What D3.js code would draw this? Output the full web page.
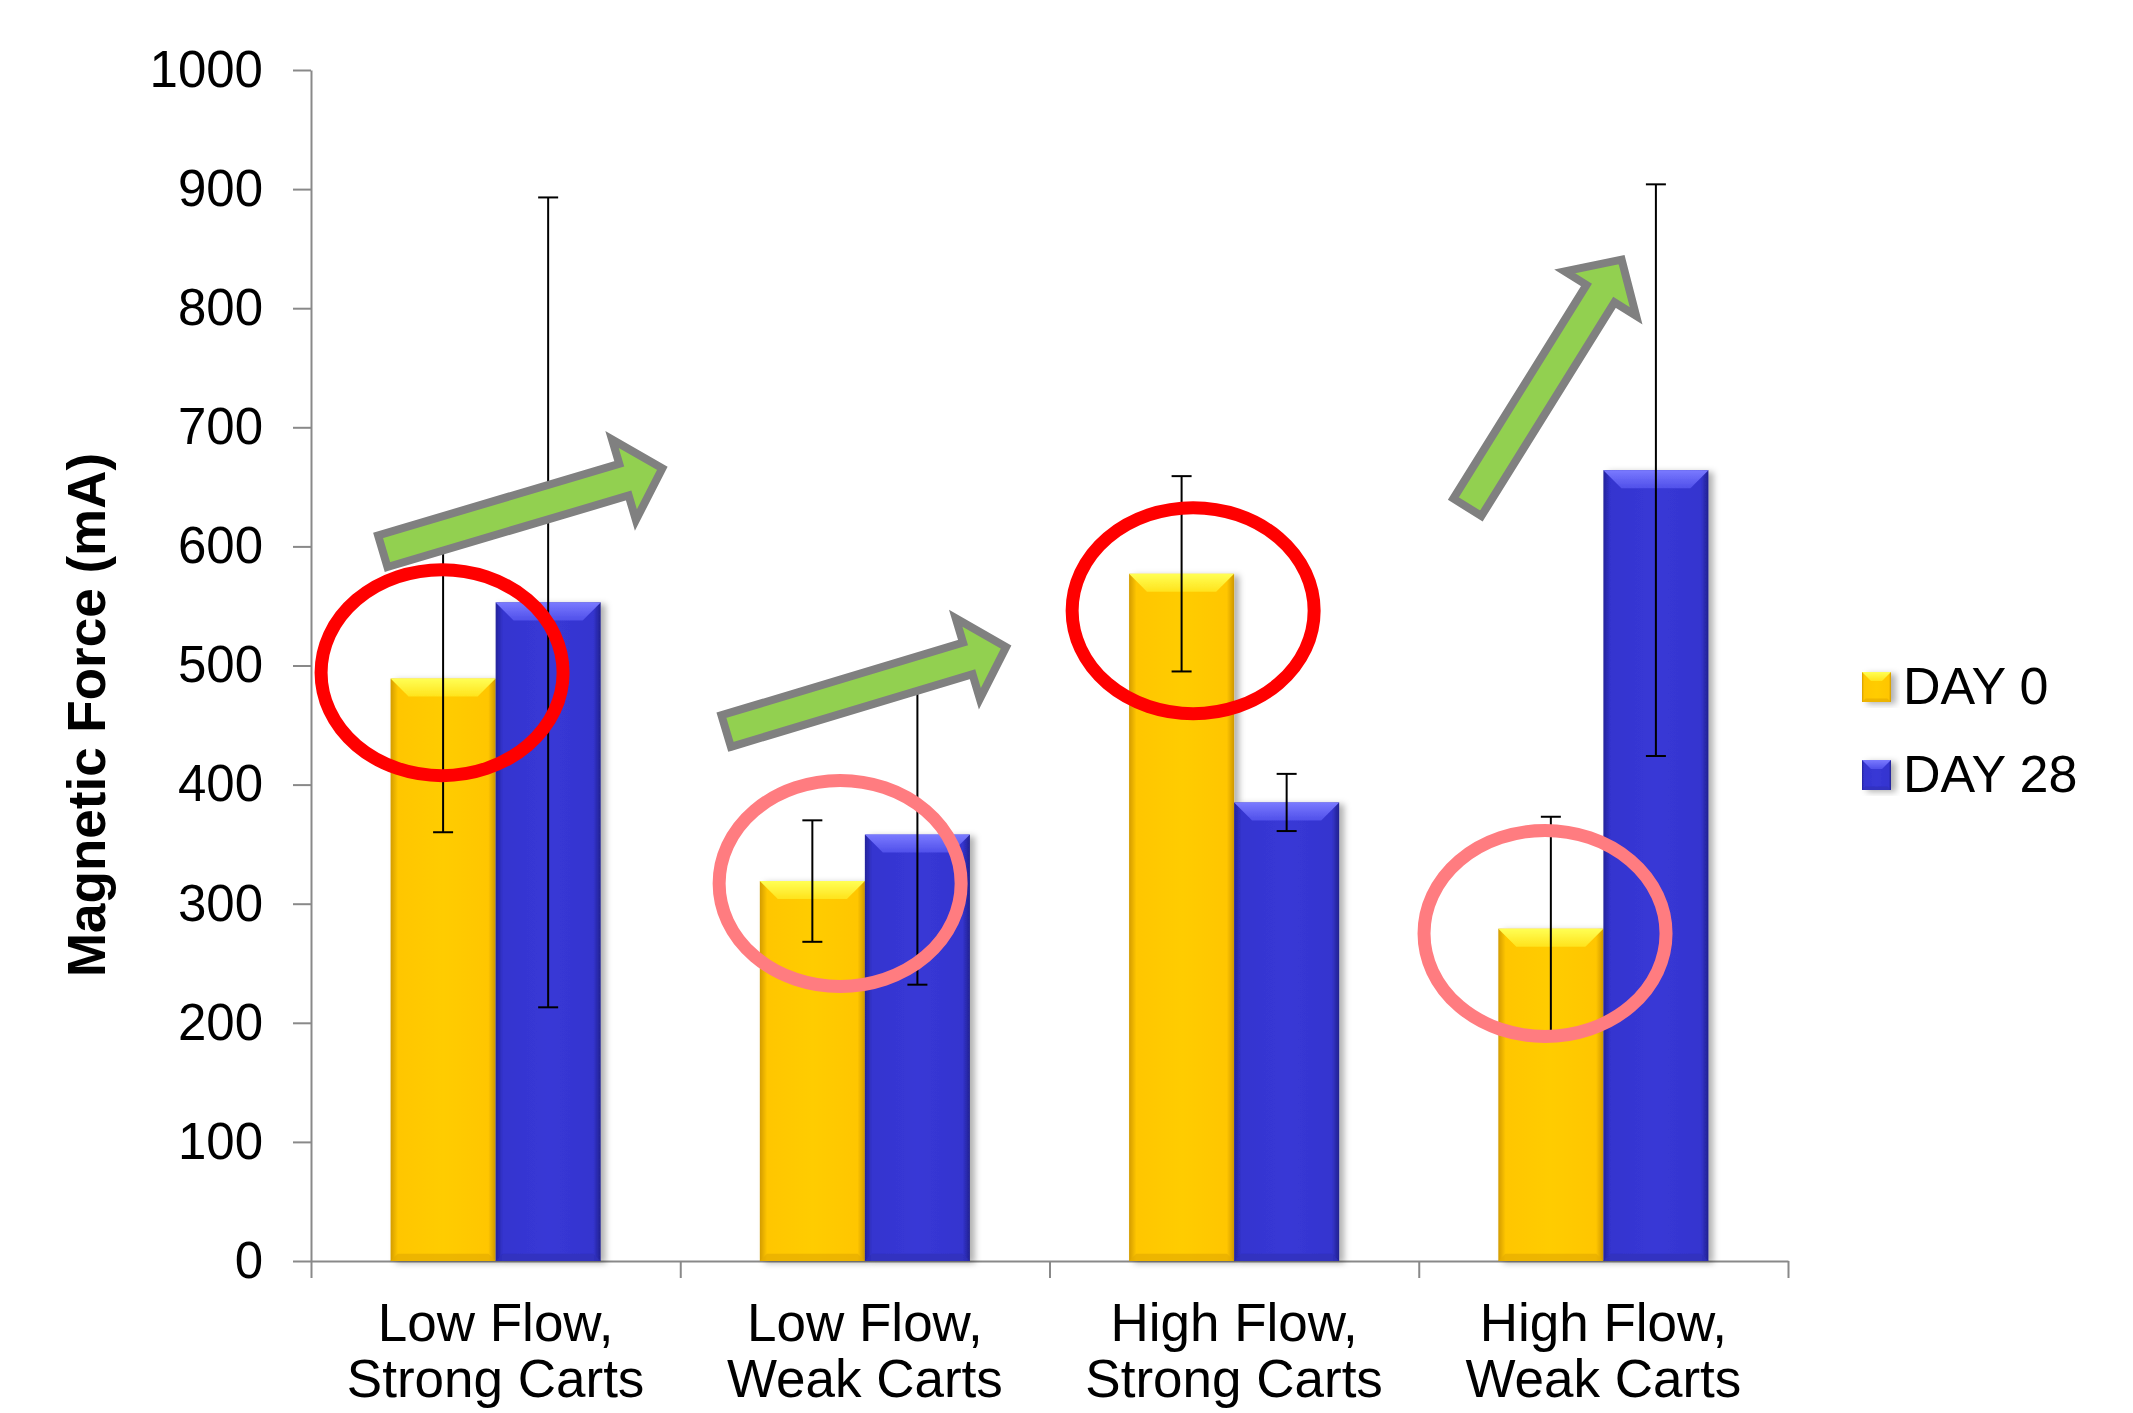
<!DOCTYPE html>
<html>
<head>
<meta charset="utf-8">
<script src="https://cdn.jsdelivr.net/npm/d3@7"></script>
<style>
  body { margin: 0; background: #fff; }
  svg { display: block; }
</style>
</head>
<body>
<svg id="chart"></svg>
<script>
const categories = ["Low Flow,\nStrong Carts", "Low Flow,\nWeak Carts", "High Flow,\nStrong Carts", "High Flow,\nWeak Carts"];
const seriesNames = ["DAY 0", "DAY 28"];
const day0 = [489, 319, 577, 279];
const day0Err = [129, 51, 82, 94];
const day28 = [553, 358, 385, 664];
const day28Err = [340, 126, 24, 240];
const yTicks = [0, 100, 200, 300, 400, 500, 600, 700, 800, 900, 1000];

// annotations, placed in category units (0..4) and mA
const circleCenters = [[0.355, 494], [1.433, 317], [2.389, 546], [3.342, 275]];
const circleKinds = ["strong", "soft", "strong", "soft"];
const arrowTails = [[0.184, 595], [1.114, 444], [3.126, 630]];
const arrowTips = [[0.967, 667], [1.898, 517], [3.558, 845]];

const W = 2133, H = 1413;
const FONT = "'Liberation Sans', Arial, sans-serif";

const svg = d3.select("#chart").attr("width", W).attr("height", H)
  .attr("font-family", FONT);

const y = d3.scaleLinear().domain([0, 1000]).range([1261, 70]);
const x0 = d3.scaleBand().domain(d3.range(categories.length)).range([311, 1788])
  .paddingInner(0.431).paddingOuter(0.2155);
const x1 = d3.scaleBand().domain(seriesNames).range([0, x0.bandwidth()]);
const xc = d3.scaleLinear().domain([0, 4]).range([311, 1788]);

const values = { "DAY 0": day0, "DAY 28": day28 };
const errors = { "DAY 0": day0Err, "DAY 28": day28Err };

// colours for the bevelled bars
const palette = {
  "DAY 0": { side: ["#d39c00", "#ffc600", "#ffcc00", "#ffc600", "#cf9800"], top: ["#ffff55", "#ffe31c"], bottom: "#e6ad00" },
  "DAY 28": { side: ["#23239c", "#3434cf", "#3838d6", "#3434cf", "#21218f"], top: ["#7a7aff", "#5050ea"], bottom: "#2f2fb8" },
};

const defs = svg.append("defs");
seriesNames.forEach((s, i) => {
  const p = palette[s];
  const g = defs.append("linearGradient").attr("id", `side${i}`).attr("x1", 0).attr("x2", 1).attr("y1", 0).attr("y2", 0);
  [0, 0.07, 0.5, 0.93, 1].forEach((o, k) => g.append("stop").attr("offset", o).attr("stop-color", p.side[k]));
  const t = defs.append("linearGradient").attr("id", `top${i}`).attr("x1", 0).attr("x2", 0).attr("y1", 0).attr("y2", 1);
  t.append("stop").attr("offset", 0).attr("stop-color", p.top[0]);
  t.append("stop").attr("offset", 1).attr("stop-color", p.top[1]);
});
const shadow = defs.append("filter").attr("id", "shadow").attr("x", -0.2).attr("y", -0.2).attr("width", 1.5).attr("height", 1.4);
shadow.append("feDropShadow").attr("dx", 5).attr("dy", 2).attr("stdDeviation", 3)
  .attr("flood-color", "#000").attr("flood-opacity", 0.3);

function bevelBar(g, x, yTop, w, h, s, b) {
  const i = seriesNames.indexOf(s);
  const grp = g.append("g").attr("filter", "url(#shadow)");
  grp.append("rect").attr("x", x).attr("y", yTop).attr("width", w).attr("height", h)
    .attr("fill", `url(#side${i})`);
  grp.append("path")
    .attr("d", `M${x},${yTop}H${x + w}L${x + w - b},${yTop + b}H${x + b}Z`)
    .attr("fill", `url(#top${i})`);
  const bb = Math.min(b * 0.4, h / 4);
  grp.append("path")
    .attr("d", `M${x},${yTop + h}H${x + w}L${x + w - bb},${yTop + h - bb}H${x + bb}Z`)
    .attr("fill", palette[s].bottom).attr("opacity", 0.7);
}

// axes
const axisColor = "#898989";
const yAxis = svg.append("g").attr("transform", "translate(311,0)")
  .call(d3.axisLeft(y).tickValues(yTicks).tickFormat(d3.format("d"))
    .tickSize(18).tickSizeOuter(0).tickPadding(30));
yAxis.attr("font-family", FONT).attr("font-size", 51);
yAxis.selectAll("text").attr("fill", "#000");
yAxis.selectAll("line, path").attr("stroke", axisColor).attr("stroke-width", 2);

const xAxis = svg.append("g").attr("transform", `translate(0,${y(0)})`)
  .call(d3.axisBottom(xc).tickValues([0, 1, 2, 3, 4]).tickSize(17).tickSizeOuter(0).tickFormat(""));
xAxis.selectAll("line, path").attr("stroke", axisColor).attr("stroke-width", 2);

// category labels
svg.append("g").selectAll("text").data(categories).join("text")
  .attr("x", (d, i) => x0(i) + x0.bandwidth() / 2)
  .attr("y", 1341)
  .attr("text-anchor", "middle").attr("font-size", 53).attr("fill", "#000")
  .each(function (d) {
    const lines = d.split("\n");
    d3.select(this).selectAll("tspan").data(lines).join("tspan")
      .attr("x", d3.select(this).attr("x"))
      .attr("dy", (l, k) => (k === 0 ? 0 : 56))
      .text((l) => l);
  });

// y-axis title
svg.append("text")
  .attr("transform", "translate(105,715) rotate(-90)")
  .attr("text-anchor", "middle").attr("font-size", 53).attr("font-weight", "bold")
  .text("Magnetic Force (mA)");

// bars
const bars = svg.append("g");
categories.forEach((c, i) => {
  seriesNames.forEach((s) => {
    const v = values[s][i];
    bevelBar(bars, x0(i) + x1(s), y(v), x1.bandwidth(), y(0) - y(v), s, 18);
  });
});

// error bars
const errG = svg.append("g").attr("stroke", "#000").attr("stroke-width", 2);
categories.forEach((c, i) => {
  seriesNames.forEach((s) => {
    const v = values[s][i], e = errors[s][i];
    const cx = x0(i) + x1(s) + x1.bandwidth() / 2;
    errG.append("line").attr("x1", cx).attr("x2", cx).attr("y1", y(v + e)).attr("y2", y(v - e));
    [v + e, v - e].forEach((t) => {
      errG.append("line").attr("x1", cx - 10).attr("x2", cx + 10).attr("y1", y(t)).attr("y2", y(t));
    });
  });
});

// circles
const circleColor = { strong: "#ff0000", soft: "#ff7c80" };
svg.append("g").selectAll("ellipse").data(circleCenters).join("ellipse")
  .attr("cx", (d) => xc(d[0]))
  .attr("cy", (d) => y(d[1]))
  .attr("rx", 121).attr("ry", 103)
  .attr("fill", "none")
  .attr("stroke", (d, i) => circleColor[circleKinds[i]])
  .attr("stroke-width", 13);

// green block arrows
function arrowPath(tail, tip) {
  const ax = xc(tail[0]), ay = y(tail[1]);
  const bx = xc(tip[0]), by = y(tip[1]);
  const len = Math.hypot(bx - ax, by - ay);
  const ux = (bx - ax) / len, uy = (by - ay) / len;
  const nx = -uy, ny = ux;
  const sx = ax + ux * 4, sy = ay + uy * 4;
  const tx = bx - ux * 6, ty = by - uy * 6;
  const shaft = 33 / 2, head = 84 / 2, headLen = 40;
  const kx = tx - ux * headLen, ky = ty - uy * headLen;
  const pts = [
    [sx + nx * shaft, sy + ny * shaft],
    [kx + nx * shaft, ky + ny * shaft],
    [kx + nx * head, ky + ny * head],
    [tx, ty],
    [kx - nx * head, ky - ny * head],
    [kx - nx * shaft, ky - ny * shaft],
    [sx - nx * shaft, sy - ny * shaft],
  ];
  return d3.line()(pts) + "Z";
}
svg.append("g").selectAll("path").data(arrowTails).join("path")
  .attr("d", (d, i) => arrowPath(d, arrowTips[i]))
  .attr("fill", "#92d050")
  .attr("stroke", "#808080")
  .attr("stroke-width", 8)
  .attr("stroke-linejoin", "miter");

// legend
const legend = svg.append("g");
seriesNames.forEach((s, i) => {
  const row = legend.append("g").attr("transform", `translate(1862,${672 + i * 88})`);
  bevelBar(row, 0, 0, 29, 30, s, 9);
  row.append("text").attr("x", 41).attr("y", 32)
    .attr("font-size", 52).attr("fill", "#000").text(s);
});
</script>
</body>
</html>
